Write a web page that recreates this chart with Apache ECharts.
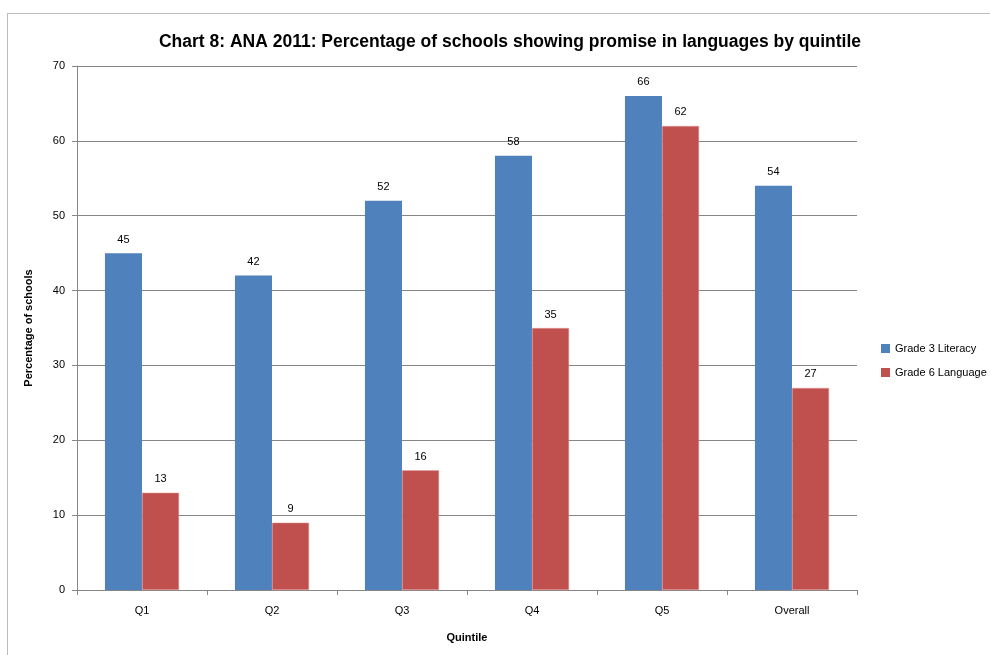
<!DOCTYPE html>
<html><head><meta charset="utf-8">
<script src="https://cdn.jsdelivr.net/npm/echarts@6/dist/echarts.min.js"></script>
<style>html,body{margin:0;padding:0;background:#fff;}#frame{position:absolute;left:7px;top:13px;width:1000px;height:700px;border:1px solid #bdbdbd;box-sizing:border-box;}#c{position:absolute;left:0;top:0;width:990px;height:655px;}</style>
</head><body><div id="frame"></div><div id="c"></div>
<script>
const categories = ['Q1','Q2','Q3','Q4','Q5','Overall'];
const grade3Literacy = [45,42,52,58,66,54];
const grade6Language = [13,9,16,35,62,27];
const yTicks = {min:0, max:70, interval:10};
const F = 'Liberation Sans, sans-serif';
const chart = echarts.init(document.getElementById('c'), null, {renderer:'canvas'});
chart.setOption({
  animation:false,
  backgroundColor:'transparent',
  title:{text:'Chart 8: ANA 2011: Percentage of schools showing promise in languages by quintile', left:505, top:28, textAlign:'center',
    textStyle:{fontFamily:F, fontSize:17.5, fontWeight:'bold', color:'#000'}},
  legend:{orient:'vertical', left:876, top:338, itemWidth:9, itemHeight:9, itemGap:13, icon:'rect',
    itemStyle:{borderWidth:0},
    textStyle:{fontFamily:F, fontSize:11, color:'#000'}},
  grid:{left:77, right:133, top:66, bottom:65},
  xAxis:{type:'category', data:categories, name:'Quintile', nameLocation:'middle', nameGap:42,
    nameTextStyle:{fontFamily:F, fontSize:11, fontWeight:'bold', color:'#000'},
    axisLine:{lineStyle:{color:'#868686'}}, axisTick:{show:true, length:5, lineStyle:{color:'#868686'}},
    axisLabel:{fontFamily:F, fontSize:11, color:'#000', margin:15}},
  yAxis:{type:'value', min:yTicks.min, max:yTicks.max, interval:yTicks.interval, name:'Percentage of schools', nameLocation:'middle', nameGap:43,
    nameTextStyle:{fontFamily:F, fontSize:11, fontWeight:'bold', color:'#000'},
    axisLine:{show:true, lineStyle:{color:'#868686'}}, axisTick:{show:true, length:5, lineStyle:{color:'#868686'}},
    splitLine:{lineStyle:{color:'#868686'}},
    axisLabel:{fontFamily:F, fontSize:11, color:'#000', margin:12}},
  series:[
    {name:'Grade 3 Literacy', type:'bar', data:grade3Literacy, barGap:'0%', barCategoryGap:'43%',
      itemStyle:{color:'#4f81bd'}, label:{show:true, position:'top', distance:8, fontFamily:F, fontSize:11, color:'#000'}},
    {name:'Grade 6 Language', type:'bar', data:grade6Language,
      itemStyle:{color:'#c0504d', borderColor:'#e6a0a0', borderWidth:0.5}, label:{show:true, position:'top', distance:8, fontFamily:F, fontSize:11, color:'#000'}}
  ]
});
</script></body></html>
